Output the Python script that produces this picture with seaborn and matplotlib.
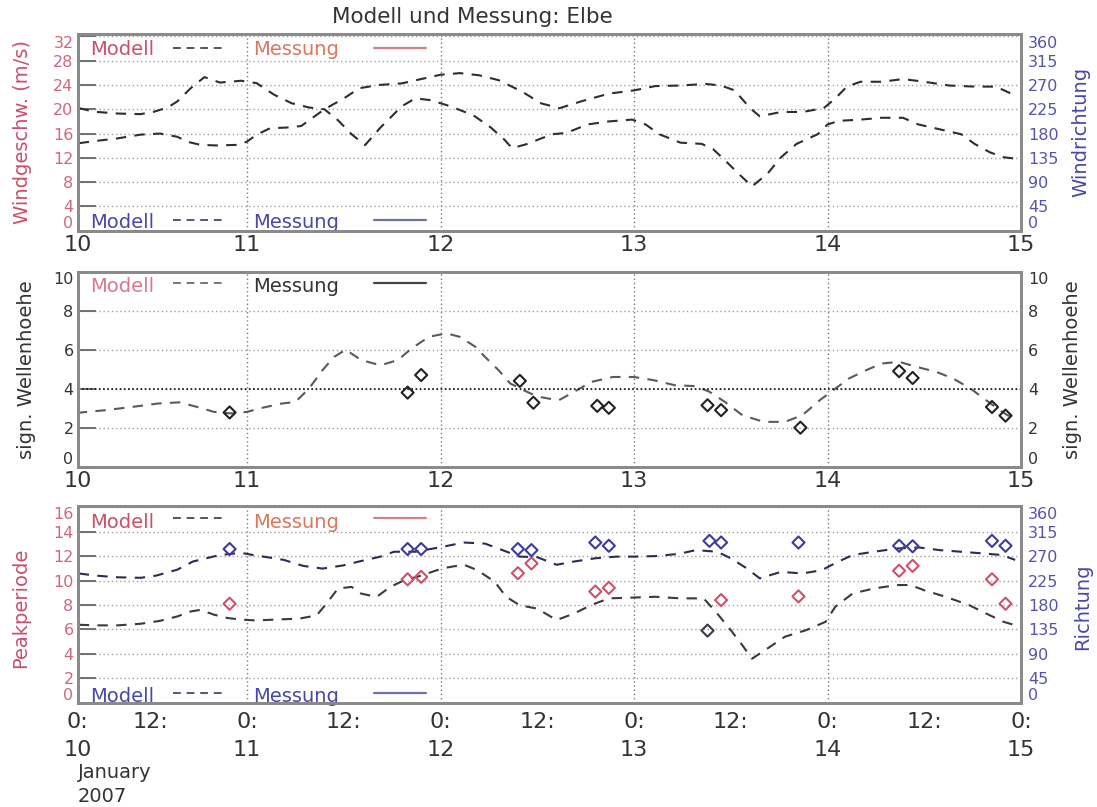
import matplotlib
matplotlib.use("Agg")
import matplotlib.pyplot as plt
import pandas as pd
import seaborn as sns

# ---------------------------------------------------------------------------
# Data: time in days of January 2007 (10.5 = 10 Jan 12:00)
# ---------------------------------------------------------------------------
# wind speed (m/s), model
wind_speed_time = [10.13, 10.21, 10.33, 10.45, 10.52, 10.59, 10.64, 10.71, 10.78, 10.86,
                   10.97, 11.05, 11.14, 11.23, 11.32, 11.40, 11.47, 11.54, 11.61, 11.69,
                   11.80, 11.87, 11.95, 12.05, 12.17, 12.26, 12.33, 12.37, 12.45, 12.52,
                   12.58, 12.65, 12.76, 12.87, 12.99, 13.06, 13.13, 13.24, 13.35, 13.41,
                   13.47, 13.54, 13.61, 13.69, 13.76, 13.84, 13.95, 14.00, 14.06, 14.17,
                   14.28, 14.39, 14.47, 14.58, 14.69, 14.76, 14.84, 14.91, 14.99]
wind_speed = [20.2, 19.6, 19.3, 19.2, 19.6, 20.3, 21.3, 23.5, 25.3, 24.4,
              24.7, 24.3, 22.4, 21.0, 20.3, 20.0, 18.2, 15.9, 14.1, 17.0,
              20.5, 21.8, 21.5, 20.5, 19.0, 17.0, 15.0, 13.6, 14.3, 15.2,
              15.9, 16.1, 17.5, 18.0, 18.3, 17.5, 15.9, 14.5, 14.3, 13.4,
              11.6, 9.4, 7.3, 9.4, 12.1, 14.3, 15.9, 17.5, 18.1, 18.3,
              18.6, 18.6, 17.5, 16.7, 15.9, 14.3, 12.9, 12.1, 11.8]

# wind direction (degrees), model
wind_dir_time = [10.13, 10.21, 10.33, 10.45, 10.55, 10.64, 10.69, 10.76, 10.84, 10.95,
                 11.00, 11.05, 11.12, 11.20, 11.28, 11.40, 11.50, 11.58, 11.68, 11.80,
                 11.90, 12.00, 12.10, 12.20, 12.30, 12.42, 12.52, 12.615, 12.73, 12.87,
                 13.00, 13.11, 13.24, 13.37, 13.45, 13.52, 13.60, 13.65, 13.76, 13.87,
                 13.98, 14.04, 14.10, 14.17, 14.28, 14.39, 14.50, 14.63, 14.76, 14.87,
                 14.98]
wind_dir = [162, 166, 171, 178, 180, 174, 165, 159, 158, 159,
            165, 178, 190, 191, 194, 225, 245, 264, 270, 273,
            281, 289, 292, 288, 279, 258, 236, 227, 240, 254,
            260, 268, 269, 272, 269, 260, 227, 212, 220, 220,
            227, 245, 267, 276, 276, 281, 276, 269, 267, 267,
            249]

# significant wave height (m), model and measurement
hs_time = [10.12, 10.27, 10.41, 10.54, 10.65, 10.74, 10.83, 10.92, 11.00, 11.07,
           11.18, 11.25, 11.32, 11.39, 11.45, 11.51, 11.59, 11.69, 11.78, 11.85,
           11.94, 12.03, 12.10, 12.18, 12.23, 12.30, 12.36, 12.43, 12.50, 12.61,
           12.69, 12.78, 12.89, 13.00, 13.10, 13.21, 13.32, 13.39, 13.47, 13.56,
           13.67, 13.78, 13.87, 13.96, 14.04, 14.11, 14.20, 14.28, 14.37, 14.46,
           14.56, 14.65, 14.74, 14.82, 14.89, 14.93, 14.97]
hs_model = [2.76, 2.90, 3.07, 3.24, 3.30, 3.07, 2.81, 2.73, 2.81, 3.00,
            3.24, 3.32, 4.00, 4.95, 5.63, 6.00, 5.47, 5.20, 5.47, 6.06,
            6.66, 6.84, 6.66, 6.15, 5.63, 4.95, 4.27, 3.92, 3.60, 3.40,
            3.84, 4.35, 4.60, 4.60, 4.44, 4.18, 4.13, 3.84, 3.32, 2.64,
            2.30, 2.30, 2.64, 3.41, 4.00, 4.52, 4.95, 5.29, 5.38, 5.12,
            4.87, 4.52, 4.00, 3.41, 2.90, 2.64, 2.50]
hs_obs_time = [10.91, 11.83, 11.90, 12.41, 12.48, 12.81, 12.87, 13.38, 13.45, 13.86,
               14.37, 14.44, 14.85, 14.92]
hs_obs = [2.78, 3.80, 4.70, 4.40, 3.28, 3.12, 3.02, 3.15, 2.90, 2.00,
          4.90, 4.55, 3.06, 2.62]

# peak period (s), model and measurement
tp_time = [10.13, 10.22, 10.33, 10.45, 10.55, 10.64, 10.71, 10.76, 10.83, 10.90,
           10.97, 11.05, 11.14, 11.27, 11.36, 11.41, 11.47, 11.54, 11.59, 11.67,
           11.74, 11.81, 11.90, 12.01, 12.12, 12.19, 12.28, 12.34, 12.41, 12.50,
           12.60, 12.69, 12.78, 12.87, 12.99, 13.11, 13.24, 13.36, 13.43, 13.50,
           13.56, 13.61, 13.69, 13.78, 13.89, 13.99, 14.04, 14.13, 14.24, 14.36,
           14.43, 14.50, 14.61, 14.73, 14.82, 14.91, 15.00]
tp_model = [6.38, 6.33, 6.33, 6.46, 6.70, 7.06, 7.47, 7.60, 7.20, 6.93,
            6.80, 6.73, 6.80, 6.88, 7.15, 8.10, 9.34, 9.48, 8.93, 8.66,
            9.48, 10.00, 10.40, 11.00, 11.30, 10.85, 9.90, 8.66, 7.97, 7.70,
            6.76, 7.30, 8.00, 8.54, 8.60, 8.67, 8.54, 8.54, 7.30, 5.94,
            4.70, 3.60, 4.44, 5.40, 5.94, 6.62, 7.85, 8.94, 9.35, 9.63,
            9.63, 9.20, 8.67, 8.00, 7.30, 6.62, 6.20]
tp_obs_time = [10.91, 11.83, 11.90, 12.40, 12.47, 12.80, 12.87, 13.45, 13.85, 14.37,
               14.44, 14.85, 14.92]
tp_obs = [8.1, 10.1, 10.3, 10.6, 11.4, 9.1, 9.4, 8.4, 8.7, 10.8,
          11.2, 10.1, 8.1]
tp_obs_low_time = [13.38]
tp_obs_low = [5.9]

# mean wave direction (degrees), model and measurement
wave_dir_time = [10.13, 10.22, 10.33, 10.45, 10.53, 10.64, 10.72, 10.79, 10.86, 10.97,
                 11.03, 11.14, 11.19, 11.29, 11.39, 11.50, 11.59, 11.69, 11.76, 11.87,
                 12.01, 12.12, 12.23, 12.32, 12.41, 12.50, 12.60, 12.69, 12.80, 12.91,
                 13.00, 13.11, 13.23, 13.32, 13.43, 13.50, 13.58, 13.65, 13.76, 13.87,
                 13.97, 14.04, 14.13, 14.24, 14.36, 14.47, 14.58, 14.69, 14.80, 14.90,
                 14.97]
wave_dir_model = [238, 234, 231, 230, 234, 245, 260, 266, 272, 276,
                  272, 266, 263, 252, 247, 253, 261, 269, 278, 278,
                  287, 295, 293, 281, 269, 268, 254, 260, 266, 269,
                  269, 270, 274, 281, 278, 266, 248, 229, 241, 238,
                  244, 257, 272, 278, 284, 286, 281, 278, 275, 272,
                  263]
wave_dir_obs_time = [10.91, 11.83, 11.90, 12.40, 12.47, 12.80, 12.87, 13.39, 13.45, 13.85,
                     14.37, 14.44, 14.85, 14.92]
wave_dir_obs = [283, 283, 283, 283, 281, 295, 289, 298, 295, 295,
                289, 288, 298, 289]

# axis ticks
day_ticks = [10.125, 11, 12, 13, 14, 15]
day_labels = ["10", "11", "12", "13", "14", "15"]
noon_ticks = [10.5, 11.5, 12.5, 13.5, 14.5]
speed_ticks = [0, 4, 8, 12, 16, 20, 24, 28, 32]
dir_ticks = [0, 45, 90, 135, 180, 225, 270, 315, 360]
hs_ticks = [0, 2, 4, 6, 8, 10]
tp_ticks = [0, 2, 4, 6, 8, 10, 12, 14, 16]

# ---------------------------------------------------------------------------
# Style
# ---------------------------------------------------------------------------
sns.set_style("white")
plt.rcParams["font.family"] = ["DejaVu Sans"]

RED = "#c9506a"
RED_TICK = "#d0687c"
ORANGE = "#d8785c"
BLUE = "#4848a8"
BLUE_TICK = "#5454b0"
GRID = "#a0a0a0"
VGRID = "#7a7a7a"
FRAME = "#8a8a8a"
INK = "#2e2e2e"
DASH = (0, (5, 4))
LEG_DASH = (0, (4, 3))
DOT = (0, (1, 2))
YTICK_SIZE = 11.5

W, H = 1097, 807
XMIN, XMAX = 10.125, 15.0
fig = plt.figure(figsize=(W / 100, H / 100), dpi=100)
fig.patch.set_facecolor("white")


def rect(left, top, right, bottom):
    return [left / W, 1 - bottom / H, (right - left) / W, (bottom - top) / H]


def frame(ax):
    for s in ax.spines.values():
        s.set_visible(True)
        s.set_color(FRAME)
        s.set_linewidth(2)


def squeeze_end_labels(labels):
    labels[0].set_verticalalignment("bottom")
    labels[-1].set_verticalalignment("top")


def setup_left(ax, ylim, ticks, color, xlabels=True):
    ax.set_xlim(XMIN, XMAX)
    ax.set_ylim(*ylim)
    ax.set_yticks(ticks)
    ax.set_yticklabels([str(t) for t in ticks])
    ax.tick_params(axis="y", which="major", direction="in", length=13, width=1.4,
                   color="#707070", labelsize=YTICK_SIZE, labelcolor=color, pad=3)
    squeeze_end_labels(ax.get_yticklabels())
    ax.yaxis.grid(True, linestyle=DOT, color=GRID, linewidth=1)
    ax.set_xticks(day_ticks)
    if xlabels:
        ax.set_xticklabels(day_labels)
    ax.xaxis.grid(True, which="major", linestyle=DOT, color=VGRID, linewidth=1)
    ax.tick_params(axis="x", which="major", length=0, labelsize=16, pad=3,
                   labelcolor="#333333")
    ax.set_xlabel("")
    frame(ax)


def setup_right(axr, ylim, ticks, color):
    axr.set_ylim(*ylim)
    axr.set_yticks(ticks)
    axr.set_yticklabels([str(t) for t in ticks])
    axr.tick_params(axis="y", direction="in", length=0, labelsize=YTICK_SIZE,
                    labelcolor=color, pad=5)
    squeeze_end_labels(axr.get_yticklabels())
    axr.grid(False)
    frame(axr)


def legend_row(ax, y_text, y_line, model_color, obs_color, model_line, obs_line):
    tr = ax.transAxes
    ax.text(0.013, y_text, "Modell", transform=tr, color=model_color, fontsize=14,
            ha="left", va="baseline")
    ax.plot([0.101, 0.156], [y_line, y_line], transform=tr, color=model_line,
            linestyle=LEG_DASH, linewidth=1.4)
    ax.text(0.186, y_text, "Messung", transform=tr, color=obs_color, fontsize=14,
            ha="left", va="baseline")
    ax.plot([0.314, 0.369], [y_line, y_line], transform=tr, color=obs_line,
            linewidth=1.6)


def diamonds(ax, t, v, color):
    sns.scatterplot(x=t, y=v, ax=ax, marker="D", s=38, facecolor="none",
                    edgecolor=color, linewidth=1.5, zorder=5)


# ---------------------------------------------------------------------------
# Panel 1: wind speed / wind direction
# ---------------------------------------------------------------------------
ax1 = fig.add_axes(rect(77.7, 34, 1021, 230.7))
ax1r = ax1.twinx()
sns.lineplot(data=pd.DataFrame({"t": wind_speed_time, "v": wind_speed}), x="t", y="v",
             ax=ax1, color=INK, linestyle=DASH, linewidth=1.5, estimator=None)
sns.lineplot(data=pd.DataFrame({"t": wind_dir_time, "v": wind_dir}), x="t", y="v",
             ax=ax1r, color=INK, linestyle=DASH, linewidth=1.5, estimator=None)
setup_left(ax1, (0, 32.4), speed_ticks, RED_TICK)
setup_right(ax1r, (0, 32.4 * 11.25), dir_ticks, BLUE_TICK)
ax1.set_ylabel("Windgeschw. (m/s)", color=RED, fontsize=14)
ax1.yaxis.set_label_coords(-0.0485, 0.5)
ax1r.set_ylabel("Windrichtung", color=BLUE, fontsize=14)
ax1r.yaxis.set_label_coords(1.053, 0.5)
legend_row(ax1, 0.893, 0.929, RED, ORANGE, "#555555", "#d8808c")
legend_row(ax1, 0.014, 0.054, BLUE, BLUE, "#555577", "#7070b0")
fig.text(472 / W, 1 - 17 / H, "Modell und Messung: Elbe", ha="center", va="center",
         fontsize=15.5, color="#333333")

# ---------------------------------------------------------------------------
# Panel 2: significant wave height
# ---------------------------------------------------------------------------
ax2 = fig.add_axes(rect(77.7, 271.7, 1021, 466.7))
ax2r = ax2.twinx()
sns.lineplot(data=pd.DataFrame({"t": hs_time, "v": hs_model}), x="t", y="v",
             ax=ax2, color="#5a5a5a", linestyle=DASH, linewidth=1.5, estimator=None)
diamonds(ax2, hs_obs_time, hs_obs, "#222222")
ax2.axhline(4, color="#111111", linestyle=(0, (1, 1.5)), linewidth=1.2)
setup_left(ax2, (0, 10), hs_ticks, "#333333")
setup_right(ax2r, (0, 10), hs_ticks, "#333333")
ax2.set_ylabel("sign. Wellenhoehe", color="#333333", fontsize=14)
ax2.yaxis.set_label_coords(-0.044, 0.5)
ax2r.set_ylabel("sign. Wellenhoehe", color="#333333", fontsize=14)
ax2r.yaxis.set_label_coords(1.044, 0.5)
legend_row(ax2, 0.897, 0.94, "#d87890", "#333333", "#777777", "#444444")

# ---------------------------------------------------------------------------
# Panel 3: peak period / wave direction
# ---------------------------------------------------------------------------
ax3 = fig.add_axes(rect(77.7, 506, 1021, 702.7))
ax3r = ax3.twinx()
sns.lineplot(data=pd.DataFrame({"t": tp_time, "v": tp_model}), x="t", y="v",
             ax=ax3, color="#3a3a3a", linestyle=DASH, linewidth=1.5, estimator=None)
diamonds(ax3, tp_obs_time, tp_obs, "#d0506a")
diamonds(ax3, tp_obs_low_time, tp_obs_low, "#3a3a4a")
sns.lineplot(data=pd.DataFrame({"t": wave_dir_time, "v": wave_dir_model}), x="t", y="v",
             ax=ax3r, color="#2c2c50", linestyle=DASH, linewidth=1.5, estimator=None)
diamonds(ax3r, wave_dir_obs_time, wave_dir_obs, "#3c3ca0")
setup_left(ax3, (0, 16.1), tp_ticks, RED_TICK, xlabels=False)
setup_right(ax3r, (0, 16.1 * 22.5), dir_ticks, BLUE_TICK)
ax3.set_xticks(day_ticks, labels=["0:\n" + d for d in day_labels])
ax3.set_xticks(noon_ticks, labels=["12:"] * len(noon_ticks), minor=True)
ax3.tick_params(axis="x", which="both", labelsize=16, pad=7, labelcolor="#333333")
ax3.tick_params(axis="x", which="minor", direction="in", length=6, width=1.2,
                color="#707070")
for lab in ax3.get_xticklabels():
    lab.set_linespacing(1.45)
ax3.set_xlabel("")
ax3.set_ylabel("Peakperiode", color=RED, fontsize=14)
ax3.yaxis.set_label_coords(-0.05, 0.48)
ax3r.set_ylabel("Richtung", color=BLUE, fontsize=14)
ax3r.yaxis.set_label_coords(1.055, 0.487)
legend_row(ax3, 0.887, 0.937, RED, ORANGE, "#555555", "#d8808c")
legend_row(ax3, 0.004, 0.051, BLUE, BLUE, "#555577", "#7070b0")

fig.text(78 / W, 1 - 773 / H, "January", ha="left", va="center", fontsize=14,
         color="#333333")
fig.text(78 / W, 1 - 796 / H, "2007", ha="left", va="center", fontsize=14,
         color="#333333")

for a in (ax1r, ax2r, ax3r):
    a.set_xlim(XMIN, XMAX)

fig.savefig("out.png", dpi=100, facecolor="white")
